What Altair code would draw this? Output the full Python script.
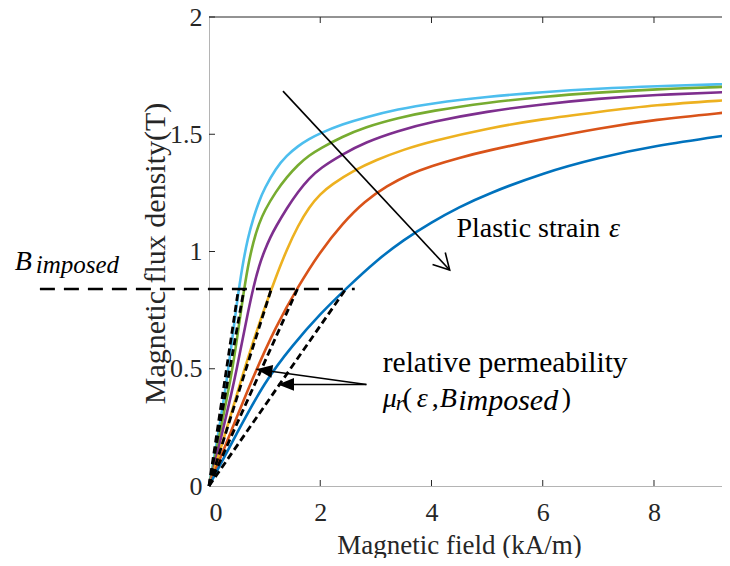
import altair as alt
import pandas as pd

# ---------------- data ----------------
CURVES = ["c1", "c2", "c3", "c4", "c5", "c6"]
COLORS = ["#4DBEEE", "#77AC30", "#7E2F8E", "#EDB120", "#D95319", "#0072BD"]

H_C1 = [0, 0.1, 0.2, 0.3, 0.4, 0.5, 0.6, 0.7, 0.8, 0.9, 1.0, 1.2, 1.4, 1.6, 1.8, 2.0, 2.4, 2.8, 3.4, 4.0, 5.0, 6.0, 7.0, 8.0, 9.35]
B_C1 = [0, 0.13, 0.27, 0.42, 0.59, 0.78, 0.94, 1.06, 1.145, 1.215, 1.27, 1.355, 1.41, 1.45, 1.48, 1.505, 1.543, 1.572, 1.607, 1.632, 1.66, 1.68, 1.695, 1.705, 1.714]

H_C2 = [0, 0.1, 0.2, 0.3, 0.4, 0.5, 0.6, 0.7, 0.8, 0.9, 1.0, 1.2, 1.4, 1.6, 1.8, 2.0, 2.4, 2.8, 3.4, 4.0, 5.0, 6.0, 7.0, 8.0, 9.35]
B_C2 = [0, 0.11, 0.23, 0.35, 0.47, 0.62, 0.79, 0.94, 1.045, 1.12, 1.175, 1.255, 1.318, 1.37, 1.41, 1.44, 1.49, 1.53, 1.57, 1.60, 1.635, 1.66, 1.678, 1.692, 1.703]

H_C3 = [0, 0.1, 0.2, 0.3, 0.4, 0.5, 0.6, 0.7, 0.8, 0.9, 1.0, 1.1, 1.2, 1.4, 1.6, 1.8, 2.0, 2.4, 2.8, 3.4, 4.0, 5.0, 6.0, 7.0, 8.0, 9.35]
B_C3 = [0, 0.09, 0.19, 0.29, 0.39, 0.5, 0.62, 0.74, 0.85, 0.94, 1.005, 1.06, 1.105, 1.185, 1.255, 1.312, 1.356, 1.415, 1.465, 1.515, 1.553, 1.598, 1.628, 1.652, 1.668, 1.68]

H_C4 = [0, 0.2, 0.4, 0.6, 0.8, 1.0, 1.2, 1.4, 1.6, 1.8, 2.0, 2.2, 2.6, 3.0, 3.5, 4.0, 5.0, 6.0, 7.0, 8.0, 9.35]
B_C4 = [0, 0.15, 0.31, 0.47, 0.62, 0.76, 0.89, 1.01, 1.11, 1.19, 1.245, 1.285, 1.345, 1.39, 1.435, 1.47, 1.525, 1.565, 1.595, 1.625, 1.646]

H_C5 = [0, 0.4, 0.8, 1.2, 1.6, 2.0, 2.4, 2.8, 3.2, 3.6, 4.0, 4.5, 5.0, 6.0, 7.0, 8.0, 9.35]
B_C5 = [0, 0.235, 0.47, 0.68, 0.85, 1.0, 1.12, 1.215, 1.28, 1.33, 1.365, 1.40, 1.43, 1.48, 1.525, 1.562, 1.594]

H_C6 = [0, 0.5, 1.0, 1.5, 2.0, 2.5, 3.0, 3.5, 4.0, 4.5, 5.0, 6.0, 7.0, 8.0, 9.35]
B_C6 = [0, 0.225, 0.445, 0.6, 0.735, 0.85, 0.96, 1.05, 1.125, 1.19, 1.245, 1.335, 1.40, 1.45, 1.497]

B_IMPOSED = 0.84
SECANT_CURVES = ["c1", "c2", "c4", "c5", "c6"]
SECANT_H = [0.53, 0.63, 1.12, 1.59, 2.46]
B_LINE_H = [-3.04, 2.62]

X_TICKS = [0, 2, 4, 6, 8]
Y_TICKS = [0, 0.5, 1, 1.5, 2]

# annotation anchors (data units)
STRAIN_ARROW = [1.33, 1.684, 4.327, 0.921]
PERM_START = [2.83, 0.433]
PERM_TIPS_H = [0.852, 1.24]
PERM_TIPS_B = [0.498, 0.433]

# ---------------- build tables ----------------
rows = []
for name, hs, bs in zip(CURVES, [H_C1, H_C2, H_C3, H_C4, H_C5, H_C6],
                        [B_C1, B_C2, B_C3, B_C4, B_C5, B_C6]):
    for h, b in zip(hs, bs):
        rows.append({"curve": name, "H": h, "B": b})
curves_df = pd.DataFrame(rows)

sec_rows = []
for name, h in zip(SECANT_CURVES, SECANT_H):
    sec_rows.append({"curve": name, "H": 0.0, "B": 0.0})
    sec_rows.append({"curve": name, "H": h, "B": B_IMPOSED})
sec_df = pd.DataFrame(sec_rows)

bline_df = pd.DataFrame({"H": [B_LINE_H[0]], "H2": [B_LINE_H[1]], "B": [B_IMPOSED]})

W, HGT = 513, 469
X_MAX = 9.2225
FONT = "Liberation Serif"
DARK = "#262626"

xs = alt.Scale(domain=[0, X_MAX], nice=False, zero=False)
ys = alt.Scale(domain=[0, 2], nice=False, zero=False)

x_axis = alt.Axis(values=X_TICKS, format="d", ticks=False, tickSize=0, grid=False,
                  domainColor="#b4b4b4", domainWidth=1,
                  labelFont=FONT, labelFontSize=26, labelColor=DARK, labelPadding=13,
                  title="Magnetic field (kA/m)", titleFont=FONT, titleFontSize=27,
                  titleFontWeight="normal", titleColor=DARK, titleX=250, titleY=67,
                  titleBaseline="alphabetic", titleAlign="center")
y_axis = alt.Axis(values=Y_TICKS, labelExpr="datum.value", ticks=False, tickSize=0, grid=False,
                  domainColor="#b4b4b4", domainWidth=1,
                  labelFont=FONT, labelFontSize=26, labelColor=DARK, labelPadding=7,
                  title="Magnetic flux density(T)", titleFont=FONT, titleFontSize=30,
                  titleFontWeight="normal", titleColor=DARK, titleAngle=270,
                  titleX=-45, titleY=236, titleBaseline="alphabetic", titleAlign="center")

curves = alt.Chart(curves_df).mark_line(strokeWidth=2.6, interpolate="basis", clip=True).encode(
    x=alt.X("H:Q", scale=xs, axis=x_axis),
    y=alt.Y("B:Q", scale=ys, axis=y_axis),
    color=alt.Color("curve:N", scale=alt.Scale(domain=CURVES, range=COLORS), legend=None),
    order="H:Q",
)

secants = alt.Chart(sec_df).mark_line(strokeWidth=2.8, strokeDash=[7, 4], color="black").encode(
    x=alt.X("H:Q", scale=xs), y=alt.Y("B:Q", scale=ys), detail="curve:N", order="H:Q")

bline = alt.Chart(bline_df).mark_rule(strokeWidth=2.6, strokeDash=[15, 9], color="black").encode(
    x=alt.X("H:Q", scale=xs), x2="H2:Q", y=alt.Y("B:Q", scale=ys))

# arrows
arrow_lines_df = pd.DataFrame({
    "H": [STRAIN_ARROW[0], PERM_START[0], PERM_START[0]],
    "B": [STRAIN_ARROW[1], PERM_START[1], PERM_START[1]],
    "H2": [STRAIN_ARROW[2], PERM_TIPS_H[0], PERM_TIPS_H[1]],
    "B2": [STRAIN_ARROW[3], PERM_TIPS_B[0], PERM_TIPS_B[1]],
})
arrow_lines = alt.Chart(arrow_lines_df).mark_rule(strokeWidth=1.6, color="black").encode(
    x=alt.X("H:Q", scale=xs), y=alt.Y("B:Q", scale=ys), x2="H2:Q", y2="B2:Q")

vhead_df = pd.DataFrame({"H": [STRAIN_ARROW[2]], "B": [STRAIN_ARROW[3]], "ang": [317]})
vhead = alt.Chart(vhead_df).mark_point(shape="M-0.55,-1L0,0L0.55,-1", filled=False, size=1000,
                                       strokeWidth=1.6, color="black", opacity=1).encode(
    x=alt.X("H:Q", scale=xs), y=alt.Y("B:Q", scale=ys), angle=alt.Angle("ang:Q", scale=None))

tri_df = pd.DataFrame({"H": PERM_TIPS_H, "B": PERM_TIPS_B, "ang": [97.8, 90]})
tris = alt.Chart(tri_df).mark_point(shape="M0,0L-0.4,-1L0.4,-1Z", filled=True, size=1024,
                                    color="black", opacity=1, strokeWidth=0).encode(
    x=alt.X("H:Q", scale=xs), y=alt.Y("B:Q", scale=ys), angle=alt.Angle("ang:Q", scale=None))

# text annotations
def txt(df, size, italic=False, font=FONT):
    return alt.Chart(df).mark_text(font=font, fontSize=size, align="left", baseline="alphabetic",
                                   color="black", fontStyle="italic" if italic else "normal").encode(
        x=alt.X("H:Q", scale=xs), y=alt.Y("B:Q", scale=ys), text="t:N")

t_strain = txt(pd.DataFrame({"H": [4.448], "B": [1.063], "t": ["Plastic strain"]}), 28)
t_perm = txt(pd.DataFrame({"H": [3.123], "B": [0.487], "t": ["relative permeability"]}), 29.5)
t_punct = txt(pd.DataFrame({"H": [3.482, 4.004, 6.34],
                            "B": [0.338, 0.338, 0.338],
                            "t": ["(", ",", ")"]}), 28)
t_ital = txt(pd.DataFrame({"H": [7.19, 3.123, 3.734, 4.148, -3.493],
                           "B": [1.063, 0.338, 0.338, 0.338, 0.921],
                           "t": ["ε", "μ", "ε", "B", "B"]}), 28, True)
t_sub_r = txt(pd.DataFrame({"H": [3.356], "B": [0.324], "t": ["r"]}), 22, True)
t_sub_left = txt(pd.DataFrame({"H": [-3.115], "B": [0.908], "t": ["imposed"]}), 25, True)
t_sub_mid = txt(pd.DataFrame({"H": [4.48], "B": [0.324], "t": ["imposed"]}), 30, True)

# frame ticks (inward) and top border
xt_df = pd.DataFrame({"H": X_TICKS[1:]})
yt_df = pd.DataFrame({"B": Y_TICKS[1:]})
bot_ticks = alt.Chart(xt_df).mark_rule(color=DARK, strokeWidth=1).encode(
    x=alt.X("H:Q", scale=xs), y=alt.value(HGT), y2=alt.value(HGT - 6))
top_ticks = alt.Chart(xt_df).mark_rule(color=DARK, strokeWidth=1).encode(
    x=alt.X("H:Q", scale=xs), y=alt.value(0), y2=alt.value(6))
left_ticks = alt.Chart(yt_df).mark_rule(color=DARK, strokeWidth=1).encode(
    y=alt.Y("B:Q", scale=ys), x=alt.value(0), x2=alt.value(6))
top_border = alt.Chart(yt_df.head(1)).mark_rule(color=DARK, strokeWidth=1).encode(
    x=alt.value(0), x2=alt.value(W), y=alt.value(0))

chart = alt.layer(
    curves, bot_ticks, top_ticks, left_ticks, top_border,
    secants, bline, arrow_lines, vhead, tris,
    t_strain, t_perm, t_punct, t_ital, t_sub_r, t_sub_left, t_sub_mid,
).properties(
    width=W, height=HGT,
    autosize=alt.AutoSizeParams(type="none"),
    padding={"left": 201, "top": 9, "right": 0, "bottom": 72},
).configure_view(stroke=None)

chart.save("out.html", embed_options={"renderer": "svg", "actions": False})
